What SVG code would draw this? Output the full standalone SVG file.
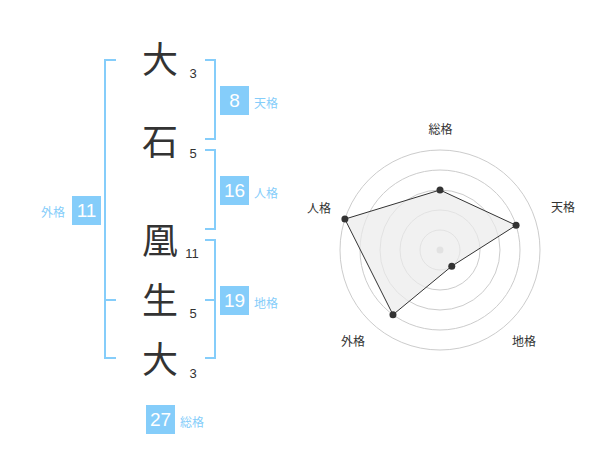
<svg xmlns="http://www.w3.org/2000/svg" width="600" height="470" viewBox="0 0 600 470">
<style>
.kanji{font-family:"Noto Sans CJK JP","Noto Sans CJK SC",sans-serif;font-size:36px;fill:#333;text-anchor:middle}
.num{font-family:"Liberation Sans",Arial,sans-serif;font-size:13px;fill:#333;text-anchor:middle}
.br{fill:none;stroke:#85cdfa;stroke-width:2}
.box{fill:#85cdfa}
.bn{font-family:"Liberation Sans",Arial,sans-serif;font-size:19px;fill:#fff;text-anchor:middle}
.lab{font-family:"Noto Sans CJK JP","Noto Sans CJK SC",sans-serif;font-size:12px;fill:#85cdfa}
.grid{fill:none;stroke:#ccc;stroke-width:1}
.rl{font-family:"Noto Sans CJK JP","Noto Sans CJK SC",sans-serif;font-size:12px;fill:#333;text-anchor:middle}
.pt{fill:#333}
</style>
<rect width="600" height="470" fill="#fff"/>
<g id="chars">
<text class="kanji" x="160" y="73">大</text>
<text class="kanji" x="160" y="155">石</text>
<text class="kanji" x="160" y="254">凰</text>
<text class="kanji" x="160" y="314">生</text>
<text class="kanji" x="160" y="373">大</text>
<text class="num" x="193" y="78">3</text>
<text class="num" x="193" y="158">5</text>
<text class="num" x="192" y="258">11</text>
<text class="num" x="193" y="318">5</text>
<text class="num" x="193" y="378">3</text>
</g>
<g id="connectors">
<path class="br" d="M116,60 H105 V358 H116 M105,300 H116"/>
<path class="br" d="M205,60 H215 V139 H205"/>
<path class="br" d="M205,150 H215 V229 H205"/>
<path class="br" d="M205,240 H215 V358 H205 M215,300 H205"/>
</g>
<g id="tenkaku">
<rect class="box" x="220" y="86" width="29" height="29"/>
<text class="bn" x="234.5" y="107">8</text>
<text class="lab" x="254" y="108">天格</text>
</g>
<g id="jinkaku">
<rect class="box" x="220" y="176" width="29" height="29"/>
<text class="bn" x="234.5" y="197">16</text>
<text class="lab" x="254" y="198">人格</text>
</g>
<g id="gaikaku">
<rect class="box" x="72" y="196" width="29" height="29"/>
<text class="bn" x="86.5" y="217">11</text>
<text class="lab" x="41" y="217">外格</text>
</g>
<g id="chikaku">
<rect class="box" x="220" y="286" width="29" height="29"/>
<text class="bn" x="234.5" y="307">19</text>
<text class="lab" x="254" y="308">地格</text>
</g>
<g id="soukaku">
<rect class="box" x="146" y="405" width="29" height="29"/>
<text class="bn" x="160.5" y="426">27</text>
<text class="lab" x="180" y="427">総格</text>
</g>
<g id="radar">
<circle class="grid" cx="440" cy="250" r="20"/>
<circle class="grid" cx="440" cy="250" r="40"/>
<circle class="grid" cx="440" cy="250" r="60"/>
<circle class="grid" cx="440" cy="250" r="80"/>
<circle class="grid" cx="440" cy="250" r="100"/>
<circle cx="440" cy="250" r="3.5" fill="#ccc"/>
<polygon points="440,190 516.08,225.28 451.76,266.18 392.98,314.72 344.89,219.1" fill="#ebebeb" fill-opacity="0.7" stroke="#333" stroke-width="1"/>
<circle class="pt" cx="440" cy="190" r="3.5"/>
<circle class="pt" cx="516.08" cy="225.28" r="3.5"/>
<circle class="pt" cx="451.76" cy="266.18" r="3.5"/>
<circle class="pt" cx="392.98" cy="314.72" r="3.5"/>
<circle class="pt" cx="344.89" cy="219.1" r="3.5"/>
<text class="rl" x="440.5" y="134">総格</text>
<text class="rl" x="563" y="212">天格</text>
<text class="rl" x="319" y="213">人格</text>
<text class="rl" x="353" y="346">外格</text>
<text class="rl" x="524" y="346">地格</text>
</g>
</svg>
